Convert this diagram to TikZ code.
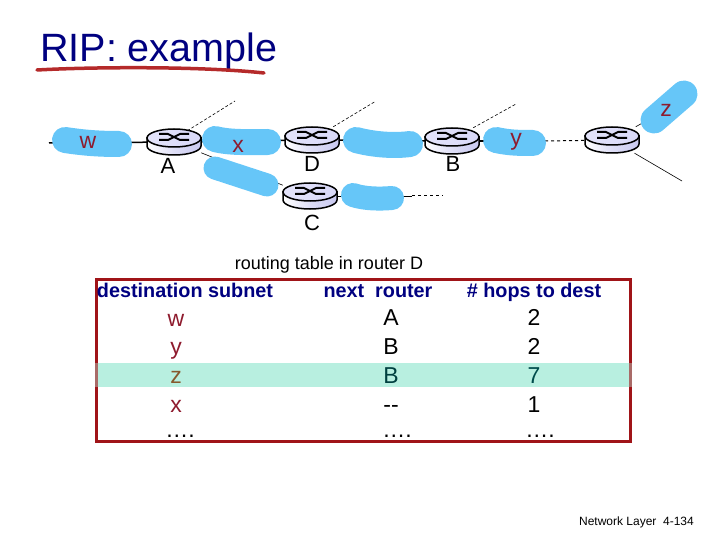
\documentclass[tikz,border=0pt]{standalone}
\usepackage{fontspec}
\setmainfont{Liberation Sans}
\usetikzlibrary{positioning}

\definecolor{titleblue}{HTML}{000080}
\definecolor{inkred}{HTML}{B52A2A}
\definecolor{netblue}{HTML}{66C6F8}
\definecolor{subnetred}{HTML}{8E1B2E}
\definecolor{framered}{HTML}{A01418}
\definecolor{rowgreen}{HTML}{B8EFE0}
\definecolor{rtrtop}{HTML}{D8D8F8}
\definecolor{rtrside}{HTML}{C8C8F0}

\begin{document}
\begin{tikzpicture}[
  x=1pt, y=-1pt,
  rtr/.style={minimum width=54pt, minimum height=26pt, inner sep=0pt},
  stub/.style={draw, line width=0.6pt},
  wire/.style={draw, line width=1.5pt},
  blob/.style={draw=netblue, line width=26pt, line cap=round, line join=round},
  subnet/.style={anchor=base, text=subnetred, font=\fontsize{23}{25}\selectfont},
  rname/.style={anchor=base, font=\fontsize{22}{24}\selectfont},
  head/.style={anchor=base, text=titleblue, font=\fontsize{19.8}{21}\selectfont\bfseries},
  cell/.style={anchor=base, font=\fontsize{23}{25}\selectfont},
  pics/router/.style={code={
    \draw[line width=1.5pt, left color=white, right color=rtrside, middle color=rtrside!60]
      (-27,-4) -- (-27,4) arc[start angle=180, end angle=360, x radius=27pt, y radius=9pt]
      -- (27,-4) -- cycle;
    \draw[line width=1.5pt, left color=rtrtop!70, right color=rtrtop]
      (0,-4) ellipse[x radius=27pt, y radius=9pt];
    \draw[line width=2pt] (-15,-8) -- (-6,-8) -- (6,-2) -- (15,-2);
    \draw[line width=2pt] (-15,-2) -- (-6,-2) -- (6,-8) -- (15,-8);
  }}
]
  \useasboundingbox (0,0) rectangle (720,540);

  % title
  \node[anchor=base west, inner sep=0pt, text=titleblue, font=\fontsize{39.5}{42}\selectfont] (title) at (40,62) {RIP: example};
  \coordinate (inkA) at (37,70);
  \coordinate (inkB) at (264,73);
  \draw[inkred, line width=3.5pt, line cap=round] (inkA) .. controls (90,67) and (200,66) .. (inkB);

  % routers
  \node[rtr] (rtA) at (174,142) {};
  \node[rtr] (rtD) at (312,140) {};
  \node[rtr] (rtC) at (310,196) {};
  \node[rtr] (rtB) at (452,141) {};
  \node[rtr] (rtE) at (612,140) {};

  % free ends of the links
  \coordinate (endW) at (49,143);
  \coordinate (endA) at (235,101);
  \coordinate (endD) at (376,101);
  \coordinate (endB) at (516,104);
  \coordinate (endC) at (443,196);
  \coordinate (endZ) at (655,116);
  \coordinate (endE) at (682,181);
  \coordinate (dashC) at (412,196);
  \coordinate (dashY) at (545,141);

  \draw[wire] (endW) -- (rtA);
  \draw[wire] (rtA) -- (rtD);
  \draw[wire] (rtD) -- (rtB);
  \draw[wire] (rtB) -- (dashY);
  \draw[wire, line width=1pt, dashed] (dashY) -- (rtE);
  \draw[stub] (rtA) -- (rtC);
  \draw[stub] (rtC) -- (dashC);
  \draw[stub, line width=1pt, dashed] (dashC) -- (endC);
  \draw[stub, densely dashed] (rtA.north east) ++(-14,2) -- (endA);
  \draw[stub, densely dashed] (rtD.north east) ++(-6,0) -- (endD);
  \draw[stub, densely dashed] (rtB.north east) ++(-6,0) -- (endB);
  \draw[stub] (rtE) -- (endZ);
  \draw[stub] (rtE) -- (endE);

  \foreach \rt in {rtA,rtD,rtC,rtB,rtE}
    \pic at (\rt) {router};

  % subnets
  \draw[blob] (65,140) .. controls (85,143) and (100,144) .. (119,144);
  \draw[blob] (215,139) .. controls (230,143) and (250,142) .. (268,142);
  \draw[blob, line width=23pt] (215,168) -- (267,185);
  \draw[blob] (356,140) .. controls (375,145) and (395,146) .. (410,144);
  \draw[blob] (496,140) .. controls (510,143) and (520,143) .. (533,143);
  \draw[blob, line width=24pt] (353,195) .. controls (365,199) and (380,199) .. (392,198);
  \draw[blob, line width=27pt] (654,120) -- (684,94);

  \node[subnet] (lblW) at (88,149) {w};
  \node[subnet] (lblX) at (238,153) {x};
  \node[subnet] (lblY) at (516,146) {y};
  \node[subnet] (lblZ) at (666,117) {z};

  \node[rname] (nameA) at (168,174) {A};
  \node[rname] (nameD) at (312,172) {D};
  \node[rname] (nameB) at (453,172) {B};
  \node[rname] (nameC) at (312,230) {C};

  % table
  \node[anchor=base, font=\fontsize{18}{20}\selectfont] (caption) at (329,269) {routing table in router D};
  \draw[framered, line width=3pt] (96,279) rectangle (630.5,441);
  \fill[rowgreen] (97.5,363) rectangle (629,387);
  \fill[rowgreen, fill opacity=.4] (94.5,363) rectangle (632,387);

  \node[head] (headDest) at (185,297) {destination subnet};
  \node[head] (headNext) at (378,297) {next\ \ router};
  \node[head] (headHops) at (534,297) {\# hops to dest};

  \node[cell, text=subnetred] (dst1) at (176,326) {w};
  \node[cell, text=subnetred] (dst2) at (176,354) {y};
  \node[cell, text=brown!70!black] (dst3) at (176,383) {z};
  \node[cell, text=subnetred] (dst4) at (176,412) {x};
  \node[cell] (dst5) at (180,437) {….};

  \node[cell] (nxt1) at (391,325) {A};
  \node[cell] (nxt2) at (391,354) {B};
  \node[cell, text=teal!50!black] (nxt3) at (391,383) {B};
  \node[cell] (nxt4) at (391,412) {{-}{-}};
  \node[cell] (nxt5) at (397,437) {….};

  \node[cell] (hop1) at (534,325) {2};
  \node[cell] (hop2) at (534,354) {2};
  \node[cell, text=teal!60!black] (hop3) at (534,383) {7};
  \node[cell] (hop4) at (534,412) {1};
  \node[cell] (hop5) at (540,437) {….};

  % footer
  \node[anchor=base, font=\fontsize{12}{14}\selectfont] (footer) at (636.5,525) {Network Layer\ \ 4-134};
\end{tikzpicture}
\end{document}
